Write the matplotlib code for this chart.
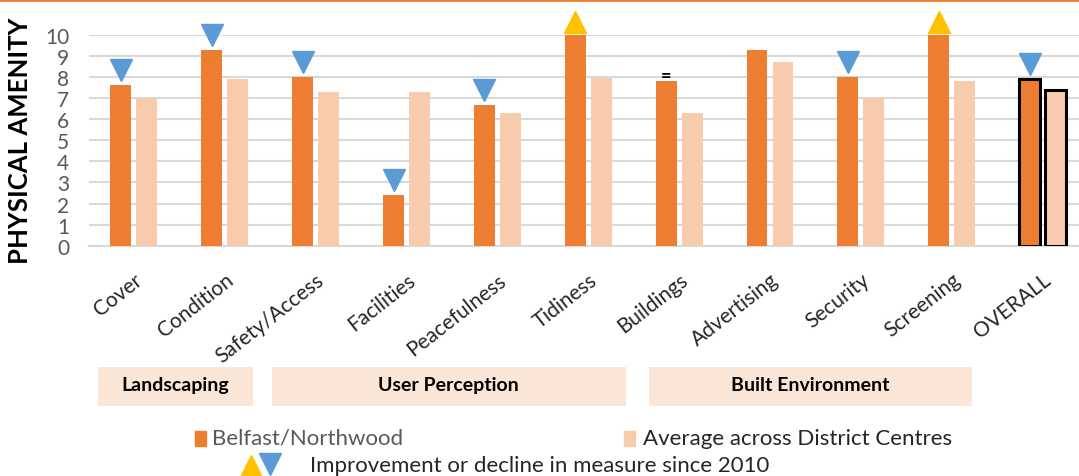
import numpy as np
import matplotlib
matplotlib.use("Agg")
import matplotlib.pyplot as plt
import matplotlib.transforms as mtransforms
from matplotlib.patches import Rectangle

plt.rcParams['font.family'] = ['Lato', 'DejaVu Sans']

categories = ['Cover', 'Condition', 'Safety/Access', 'Facilities', 'Peacefulness',
              'Tidiness', 'Buildings', 'Advertising', 'Security', 'Screening', 'OVERALL']
belfast = [7.65, 9.3, 8.0, 2.4, 6.7, 10.0, 7.8, 9.3, 8.0, 10.0, 7.9]
average = [7.0, 7.9, 7.3, 7.3, 6.3, 7.95, 6.3, 8.7, 7.0, 7.8, 7.4]
# change since 2010: 'down', 'up', 'same' or None
change = ['down', 'down', 'down', 'down', 'down', 'up', 'same', None, 'down', 'up', 'down']
# group name, span on the category axis (box edges)
groups = [('Landscaping', -0.4, 1.31), ('User Perception', 1.52, 5.41),
          ('Built Environment', 5.67, 9.22)]
series_names = ['Belfast/Northwood', 'Average across District Centres']
marker_note = 'Improvement or decline in measure since 2010'

orange = '#ED7D31'
peach = '#F8CBAD'
blue = '#5B9BD5'
yellow = '#FFC000'
grey_txt = '#595959'

W, H = 1079, 477
fig = plt.figure(figsize=(W / 100, H / 100), dpi=100)

# top orange rule
fig.add_artist(plt.Line2D([0, 1], [1 - 1 / H, 1 - 1 / H], color=orange, lw=2))

ax = fig.add_axes([88.5 / W, 1 - 246.7 / H, (W - 88.5) / W, 210.7 / H])
x = np.arange(len(categories))
bw = 0.23
off = 0.143
n = len(categories)
edge = ['none'] * (n - 1) + ['black']
lw = [0] * (n - 1) + [2.2]
ax.bar(x - off, belfast, bw, color=orange, edgecolor=edge, linewidth=lw, zorder=3)
ax.bar(x + off, average, bw, color=peach, edgecolor=edge, linewidth=lw, zorder=3)

for i, c in enumerate(change):
    if c == 'down':
        ax.plot(x[i] - off, belfast[i] + 0.7, marker='v', ms=16, color=blue,
                clip_on=False, zorder=4)
    elif c == 'up':
        ax.plot(x[i] - off, belfast[i] + 0.62, marker='^', ms=16, color=yellow,
                clip_on=False, zorder=4)
    elif c == 'same':
        ax.text(x[i] - off, belfast[i] + 0.3, '=', ha='center', va='center',
                fontsize=13, fontweight='bold', color='black', zorder=4)

ax.set_xlim(-0.5, 10.4)
ax.set_ylim(0, 10)
ax.set_yticks(range(0, 11))
ax.yaxis.grid(True, color='#D9D9D9', lw=1.5, zorder=0)
ax.set_axisbelow(True)
for s in ['top', 'right', 'left']:
    ax.spines[s].set_visible(False)
ax.spines['bottom'].set_color('#D9D9D9')
ax.spines['bottom'].set_linewidth(1.5)
ax.tick_params(axis='y', length=0, labelsize=15, labelcolor=grey_txt, pad=14)
ax.set_xticks(x)
ax.set_xticklabels(categories, rotation=38, ha='right', rotation_mode='anchor')
ax.tick_params(axis='x', length=0, labelsize=15, labelcolor='#262626', pad=17)
fig.text(20 / W, 1 - 141 / H, 'PHYSICAL AMENITY', rotation=90, ha='center', va='center',
         fontsize=18.5, fontweight='bold', color='black')

# group boxes under the labels
tr = mtransforms.blended_transform_factory(ax.transData, fig.transFigure)
for name, x0, x1 in groups:
    ax.add_patch(Rectangle((x0, 1 - 407 / H), x1 - x0, 39 / H, transform=tr,
                           facecolor='#FBE5D6', edgecolor='none', clip_on=False))
    ax.text((x0 + x1) / 2, 1 - 386 / H, name, transform=tr, ha='center', va='center',
            fontsize=14, fontweight='bold', color='black')

# legend
lg = fig.add_axes([0, 0, 1, 1])
lg.set_xlim(0, W)
lg.set_ylim(H, 0)
lg.axis('off')
lg.add_patch(Rectangle((195, 432), 11, 15, color=orange))
lg.text(212, 439, series_names[0], va='center', fontsize=16, color=grey_txt)
lg.add_patch(Rectangle((624, 432), 11, 15, color=peach))
lg.text(643, 439, series_names[1], va='center', fontsize=16, color='#262626')
lg.plot(251, 467, marker='^', ms=16, color=yellow, clip_on=False)
lg.plot(270, 465, marker='v', ms=16, color=blue, clip_on=False)
lg.text(310, 466, marker_note, va='center', fontsize=16, color='#262626')

fig.savefig('out.png', dpi=100)
